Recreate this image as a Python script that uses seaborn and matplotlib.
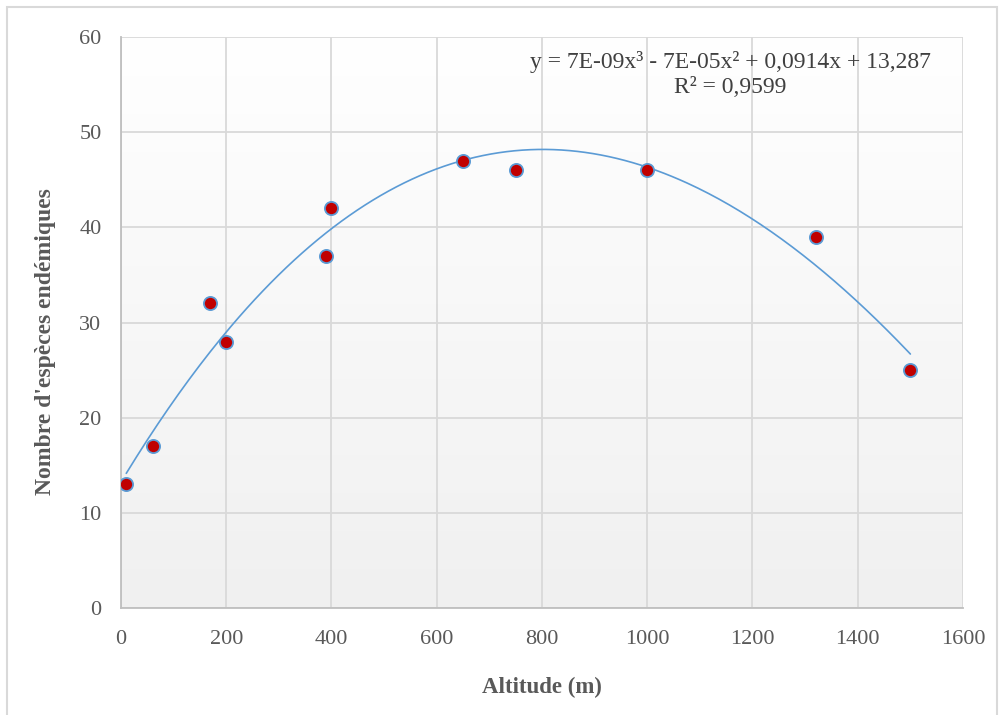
import numpy as np
import pandas as pd
import matplotlib
matplotlib.use('Agg')
import matplotlib.pyplot as plt
import seaborn as sns
from matplotlib.patches import Rectangle

# data
altitude = [10, 60, 170, 200, 390, 400, 650, 750, 1000, 1320, 1500]
especes = [13, 17, 32, 28, 37, 42, 47, 46, 46, 39, 25]
x_ticks = [0, 200, 400, 600, 800, 1000, 1200, 1400, 1600]
y_ticks = [0, 10, 20, 30, 40, 50, 60]
equation = "y = 7E-09x³ - 7E-05x² + 0,0914x + 13,287"
r2_text = "R² = 0,9599"

df = pd.DataFrame({"Altitude": altitude, "Especes": especes})

sns.set_style("white")
plt.rcParams['font.family'] = ['Liberation Serif', 'DejaVu Serif']

fig = plt.figure(figsize=(10.04, 7.15), dpi=100)
ax = fig.add_axes([121 / 1004, 1 - 608 / 715, 842 / 1004, 571 / 715])

# light vertical gradient like the Excel plot area
grad = np.linspace(0, 1, 256).reshape(-1, 1)
ax.imshow(grad, extent=[0, 1, 0, 1], transform=ax.transAxes, aspect='auto',
          cmap=matplotlib.colors.LinearSegmentedColormap.from_list('g', ['#ffffff', '#f0f0f0']),
          origin='upper', zorder=0)

ax.set_xlim(0, 1600)
ax.set_ylim(0, 60)
ax.set_xticks(x_ticks)
ax.set_yticks(y_ticks)
ax.grid(True, color='#d9d9d9', linewidth=1.3, zorder=1)
ax.set_axisbelow(True)

# cubic trend line
coef = np.polyfit(df["Altitude"], df["Especes"], 3)
xs = np.linspace(min(altitude), max(altitude), 300)
ax.plot(xs, np.polyval(coef, xs), color='#5b9bd5', linewidth=1.2, zorder=3)

sns.scatterplot(data=df, x="Altitude", y="Especes", ax=ax, color='#c00000',
                edgecolor='#5b9bd5', linewidth=1.3, s=90, zorder=4)

for s in ['top', 'right']:
    ax.spines[s].set_visible(False)
for s in ['left', 'bottom']:
    ax.spines[s].set_color('#bfbfbf')
    ax.spines[s].set_linewidth(1.3)

ax.tick_params(axis='x', length=0, labelsize=16, labelcolor='#595959', pad=16)
ax.tick_params(axis='y', length=0, labelsize=16, labelcolor='#595959', pad=14)
ax.set_xlabel("Altitude (m)", fontsize=16.5, fontweight='bold', color='#595959', labelpad=20)
ax.set_ylabel("Nombre d'espèces endémiques", fontsize=17, fontweight='bold', color='#595959')
ax.yaxis.set_label_coords(-0.077, 0.466)

ax.text(0.724, 0.956, equation, transform=ax.transAxes, fontsize=17,
        color='#404040', ha='center', va='center')
ax.text(0.724, 0.911, r2_text, transform=ax.transAxes, fontsize=17,
        color='#404040', ha='center', va='center')

fig.patches.append(Rectangle((7 / 1004, -0.01), 990 / 1004, 1 - 7 / 715 + 0.01,
                             transform=fig.transFigure, fill=False,
                             edgecolor='#d9d9d9', linewidth=1.5))

fig.savefig("out.png", dpi=100)
